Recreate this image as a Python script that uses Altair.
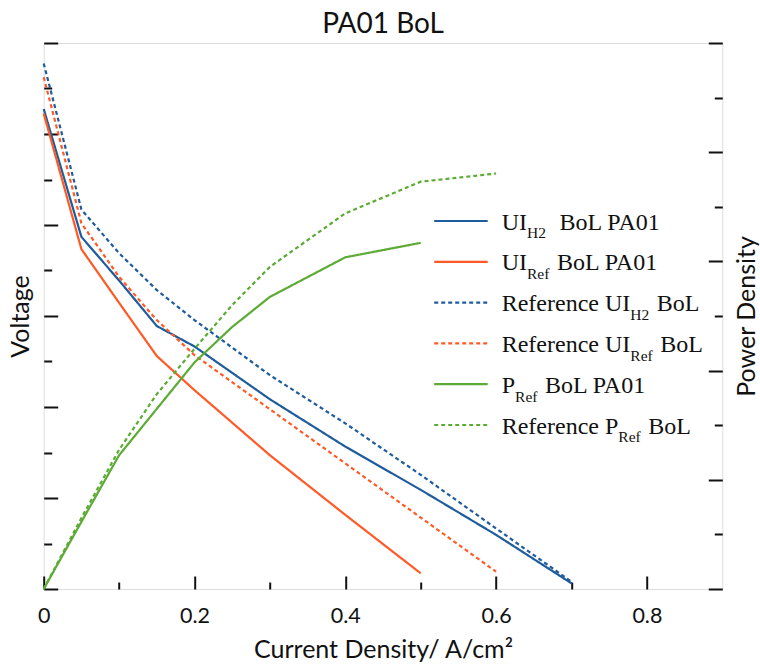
import altair as alt
import pandas as pd

# ---------------- data ----------------
cur_ui_h2 = [0, 0.05, 0.1, 0.15, 0.2, 0.3, 0.4, 0.5, 0.6, 0.7]
ui_h2_pa01 = [1.055, 0.774, 0.678, 0.578, 0.533, 0.417, 0.313, 0.218, 0.119, 0.0125]

cur_ui_ref = [0, 0.05, 0.1, 0.15, 0.2, 0.3, 0.4, 0.5]
ui_ref_pa01 = [1.045, 0.747, 0.629, 0.512, 0.437, 0.294, 0.163, 0.0345]

cur_ref_ui_h2 = [0, 0.05, 0.1, 0.15, 0.2, 0.3, 0.4, 0.5, 0.6, 0.7]
ref_ui_h2 = [1.155, 0.834, 0.738, 0.657, 0.591, 0.470, 0.364, 0.251, 0.133, 0.016]

cur_ref_ui_ref = [0, 0.05, 0.1, 0.15, 0.2, 0.3, 0.4, 0.5, 0.6]
ref_ui_ref = [1.125, 0.804, 0.686, 0.591, 0.514, 0.395, 0.276, 0.157, 0.038]

cur_p_ref = [0, 0.05, 0.1, 0.15, 0.2, 0.25, 0.3, 0.4, 0.5]
p_ref_pa01 = [0, 0.123, 0.245, 0.33, 0.415, 0.48, 0.535, 0.6075, 0.634]

cur_ref_p_ref = [0, 0.05, 0.1, 0.15, 0.2, 0.25, 0.3, 0.4, 0.5, 0.6]
ref_p_ref = [0, 0.13, 0.255, 0.357, 0.44, 0.52, 0.59, 0.688, 0.746, 0.761]

series_keys = ["ui_h2", "ui_ref", "ref_ui_h2", "ref_ui_ref", "p_ref", "ref_p_ref"]
legend_pre = ["UI", "UI", "Reference UI", "Reference UI", "P", "Reference P"]
legend_sub = ["H2", "Ref", "H2", "Ref", "Ref", "Ref"]
legend_post = ["BoL PA01", "BoL PA01", "BoL", "BoL", "BoL PA01", "BoL"]
legend_spaces = [2, 1, 1, 1, 1, 1]

x_major_ticks = [0, 0.2, 0.4, 0.6, 0.8]
x_minor_ticks = [0.1, 0.3, 0.5, 0.7]
v_major_ticks = [0, 0.2, 0.4, 0.6, 0.8, 1.0, 1.2]
v_minor_ticks = [0.1, 0.3, 0.5, 0.7, 0.9, 1.1]
p_major_ticks = [0, 0.2, 0.4, 0.6, 0.8, 1.0]
p_minor_ticks = [0.1, 0.3, 0.5, 0.7, 0.9]

# ---------------- styling ----------------
INK = "#111111"
BLUE = "#1f5c9c"
ORANGE = "#ff5a26"
GREEN = "#5cab34"
SANS = "Lato"
SERIF = "Liberation Serif"
W, H = 678.6, 546
DASH = [4, 3]
SOLID = [1, 0]

series_color = [BLUE, ORANGE, BLUE, ORANGE, GREEN, GREEN]
series_dash = [SOLID, SOLID, DASH, DASH, SOLID, DASH]

volt_df = pd.concat([
    pd.DataFrame({"current": c, "voltage": v, "series": k})
    for c, v, k in [
        (cur_ui_h2, ui_h2_pa01, "ui_h2"),
        (cur_ui_ref, ui_ref_pa01, "ui_ref"),
        (cur_ref_ui_h2, ref_ui_h2, "ref_ui_h2"),
        (cur_ref_ui_ref, ref_ui_ref, "ref_ui_ref"),
    ]
], ignore_index=True)

power_df = pd.concat([
    pd.DataFrame({"current": c, "power": p, "series": k})
    for c, p, k in [
        (cur_p_ref, p_ref_pa01, "p_ref"),
        (cur_ref_p_ref, ref_p_ref, "ref_p_ref"),
    ]
], ignore_index=True)

color_enc = alt.Color("series:N", scale=alt.Scale(domain=series_keys, range=series_color), legend=None)
dash_enc = alt.StrokeDash("series:N", scale=alt.Scale(domain=series_keys, range=series_dash), legend=None)

x_scale = alt.Scale(domain=[0, 0.9], nice=False, zero=False)
v_scale = alt.Scale(domain=[0, 1.2], nice=False, zero=False)
p_scale = alt.Scale(domain=[0, 1.0], nice=False, zero=False)


def tick_axis(orient, values, size, **kw):
    return alt.Axis(orient=orient, values=values, tickSize=size, offset=-size,
                    tickWidth=2, tickColor=INK, domain=False, grid=False, **kw)


x_major_axis = tick_axis(
    "bottom", x_major_ticks, 13, labels=True, format="~g", labelFlush=False,
    labelFont=SANS, labelFontSize=21.5, labelColor=INK, labelPadding=16,
    title="Current Density/ A/cm²", titleFont=SANS, titleFontSize=25,
    titleFontWeight="normal", titleColor=INK, titlePadding=11)
x_minor_axis = tick_axis("bottom", x_minor_ticks, 7, labels=False, title="")

v_major_axis = tick_axis(
    "left", v_major_ticks, 14, labels=False, title="Voltage", titleFont=SANS,
    titleFontSize=25, titleFontWeight="normal", titleColor=INK, titlePadding=9)
v_minor_axis = tick_axis("left", v_minor_ticks, 8, labels=False, title="")

p_major_axis = tick_axis(
    "right", p_major_ticks, 14, labels=False, title="Power Density", titleFont=SANS,
    titleFontSize=25, titleFontWeight="normal", titleColor=INK, titlePadding=11,
    titleAngle=270, titleBaseline="top")
p_minor_axis = tick_axis("right", p_minor_ticks, 8, labels=False, title="")

volt_lines = alt.Chart(volt_df).mark_line(strokeWidth=2.2).encode(
    x=alt.X("current:Q", scale=x_scale, axis=x_major_axis),
    y=alt.Y("voltage:Q", scale=v_scale, axis=v_major_axis),
    color=color_enc, strokeDash=dash_enc, detail="series:N",
)
volt_minor = alt.Chart(volt_df).mark_line(opacity=0).encode(
    x=alt.X("current:Q", scale=x_scale, axis=x_minor_axis),
    y=alt.Y("voltage:Q", scale=v_scale, axis=v_minor_axis),
    detail="series:N",
)
power_lines = alt.Chart(power_df).mark_line(strokeWidth=2.2).encode(
    x=alt.X("current:Q", scale=x_scale, axis=None),
    y=alt.Y("power:Q", scale=p_scale, axis=p_major_axis),
    color=color_enc, strokeDash=dash_enc, detail="series:N",
)
power_minor = alt.Chart(power_df).mark_line(opacity=0).encode(
    x=alt.X("current:Q", scale=x_scale, axis=None),
    y=alt.Y("power:Q", scale=p_scale, axis=p_minor_axis),
    detail="series:N",
)

volt_group = alt.layer(volt_lines, volt_minor).resolve_axis(x="independent", y="independent")
power_group = alt.layer(power_lines, power_minor).resolve_axis(x="independent", y="independent")

# ---------------- legend (built from text so subscripts can be shown) ----------------
TIMES = {"U": 722, "I": 333, "R": 667, "e": 444, "f": 333, "r": 333, "n": 500,
         "c": 444, "P": 556, " ": 250, "H": 722, "2": 500}


def tw(s, size):
    return sum(TIMES.get(ch, 500) for ch in s) / 1000.0 * size


MAIN_FS, SUB_FS = 24, 15.5
row0, row_step = 178, 40.8
sym_x0, sym_x1, text_x = 390.5, 444, 458

sym_rows, txt_rows = [], []
for i, key in enumerate(series_keys):
    yc = row0 + row_step * i
    sym_rows.append({"series": key, "x": sym_x0, "x2": sym_x1, "y": yc})
    x_sub = text_x + tw(legend_pre[i], MAIN_FS)
    x_post = x_sub + tw(legend_sub[i], SUB_FS) + 1.5 + 6 * legend_spaces[i]
    txt_rows.append({"t": legend_pre[i], "x": text_x, "y": yc + 8.5, "fs": MAIN_FS})
    txt_rows.append({"t": legend_sub[i], "x": x_sub, "y": yc + 17.3, "fs": SUB_FS})
    txt_rows.append({"t": legend_post[i], "x": x_post, "y": yc + 8.5, "fs": MAIN_FS})

legend_sym = alt.Chart(pd.DataFrame(sym_rows)).mark_rule(strokeWidth=2.2).encode(
    x=alt.X("x:Q", scale=None), x2="x2:Q", y=alt.Y("y:Q", scale=None),
    color=color_enc, strokeDash=dash_enc,
)
legend_txt = alt.Chart(pd.DataFrame(txt_rows)).mark_text(
    align="left", baseline="alphabetic", font=SERIF, color=INK
).encode(
    x=alt.X("x:Q", scale=None), y=alt.Y("y:Q", scale=None),
    text="t:N", size=alt.Size("fs:Q", scale=None),
)

chart = alt.layer(volt_group, power_group, legend_sym, legend_txt).resolve_scale(
    y="independent"
).resolve_axis(x="independent", y="independent").properties(
    width=W, height=H,
    title=alt.TitleParams("PA01 BoL", font=SANS, fontSize=28, fontWeight="normal",
                          color=INK, anchor="middle", baseline="alphabetic", offset=-19),
    autosize=alt.AutoSizeParams(type="none"),
    padding={"left": 43.7, "top": 43, "right": 37.7, "bottom": 75},
).configure_view(stroke=INK, strokeWidth=2).configure(background="white")

chart.save("out.html", embed_options={"renderer": "svg", "actions": False})
